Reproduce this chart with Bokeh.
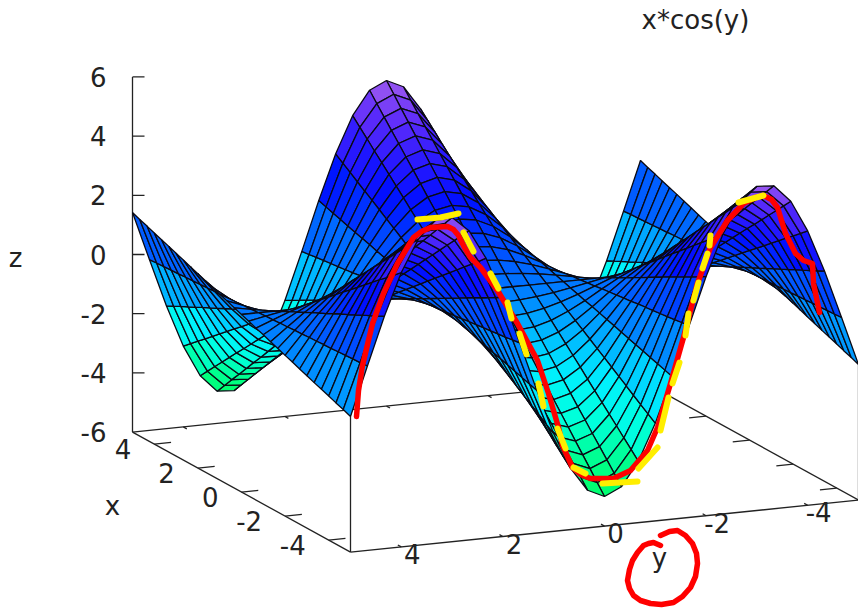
import numpy as np
from bokeh.embed import file_html
from bokeh.models import Range1d
from bokeh.plotting import figure
from bokeh.resources import INLINE
from bokeh.core.properties import value

# Surface heights (title: x*cos(y)), 31 x 31 samples on [-5, 5].
# Quadrant x = 5 ... 0 (rows), y = 5 ... 0 (columns); the rest mirrors it.
x_half = [5.0, 4.667, 4.333, 4.0, 3.667, 3.333, 3.0, 2.667, 2.333, 2.0, 1.667, 1.333, 1.0, 0.667, 0.333, 0.0]
y_half = [5.0, 4.667, 4.333, 4.0, 3.667, 3.333, 3.0, 2.667, 2.333, 2.0, 1.667, 1.333, 1.0, 0.667, 0.333, 0.0]
z_quadrant = [
    [1.42, -0.23, -1.85, -3.27, -4.33, -4.91, -4.95, -4.45, -3.46, -2.08, -0.48, 1.18, 2.70, 3.93, 4.73, 5.00],
    [1.32, -0.21, -1.73, -3.05, -4.04, -4.58, -4.62, -4.15, -3.22, -1.94, -0.45, 1.10, 2.52, 3.67, 4.41, 4.67],
    [1.23, -0.20, -1.60, -2.83, -3.75, -4.25, -4.29, -3.85, -2.99, -1.80, -0.41, 1.02, 2.34, 3.41, 4.09, 4.33],
    [1.13, -0.18, -1.48, -2.62, -3.46, -3.93, -3.96, -3.56, -2.76, -1.66, -0.38, 0.94, 2.16, 3.14, 3.78, 4.00],
    [1.04, -0.17, -1.36, -2.40, -3.17, -3.60, -3.63, -3.26, -2.53, -1.53, -0.35, 0.86, 1.98, 2.88, 3.47, 3.67],
    [0.95, -0.15, -1.23, -2.18, -2.88, -3.27, -3.30, -2.96, -2.30, -1.39, -0.32, 0.78, 1.80, 2.62, 3.15, 3.33],
    [0.85, -0.14, -1.11, -1.96, -2.60, -2.95, -2.97, -2.67, -2.07, -1.25, -0.29, 0.71, 1.62, 2.36, 2.84, 3.00],
    [0.76, -0.12, -0.99, -1.74, -2.31, -2.62, -2.64, -2.37, -1.84, -1.11, -0.26, 0.63, 1.44, 2.10, 2.52, 2.67],
    [0.66, -0.11, -0.86, -1.53, -2.02, -2.29, -2.31, -2.07, -1.61, -0.97, -0.22, 0.55, 1.26, 1.83, 2.20, 2.33],
    [0.57, -0.09, -0.74, -1.31, -1.73, -1.96, -1.98, -1.78, -1.38, -0.83, -0.19, 0.47, 1.08, 1.57, 1.89, 2.00],
    [0.47, -0.08, -0.62, -1.09, -1.44, -1.64, -1.65, -1.48, -1.15, -0.69, -0.16, 0.39, 0.90, 1.31, 1.58, 1.67],
    [0.38, -0.06, -0.49, -0.87, -1.15, -1.31, -1.32, -1.19, -0.92, -0.55, -0.13, 0.31, 0.72, 1.05, 1.26, 1.33],
    [0.28, -0.05, -0.37, -0.65, -0.87, -0.98, -0.99, -0.89, -0.69, -0.42, -0.10, 0.24, 0.54, 0.79, 0.95, 1.00],
    [0.19, -0.03, -0.25, -0.44, -0.58, -0.65, -0.66, -0.59, -0.46, -0.28, -0.06, 0.16, 0.36, 0.52, 0.63, 0.67],
    [0.09, -0.02, -0.12, -0.22, -0.29, -0.33, -0.33, -0.30, -0.23, -0.14, -0.03, 0.08, 0.18, 0.26, 0.31, 0.33],
    [0.00, 0.00, 0.00, 0.00, 0.00, 0.00, 0.00, 0.00, 0.00, 0.00, 0.00, 0.00, 0.00, 0.00, 0.00, 0.00],
]
x_ticks = [4, 2, 0, -2, -4]
y_ticks = [4, 2, 0, -2, -4]
z_ticks = [6, 4, 2, 0, -2, -4, -6]

palette_z = [-5, -4, -3, -2, -1, 0, 1, 2, 3, 4, 5]
palette_r = [0, 0, 0, 0, 0, 0, 0, 0, 40, 95, 165]
palette_g = [255, 255, 255, 240, 180, 120, 70, 15, 25, 45, 95]
palette_b = [100, 150, 225, 255, 255, 255, 255, 255, 255, 250, 240]

# Hand-drawn annotation strokes, in page pixels of the picture.
red_main = [(356, 416), (358, 390), (362, 365), (372, 323), (383, 293), (397, 263), (413, 237), (421, 231), (430, 227), (447, 226),
            (453, 229), (458, 235), (464, 247), (470, 257), (480, 267), (497, 290), (517, 323), (537, 360), (548, 393), (558, 427), (562, 445),
            (572, 467), (580, 474), (590, 478), (613, 478), (630, 470), (647, 450), (657, 427), (670, 383), (683, 337), (697, 283),
            (710, 247), (727, 220), (743, 203), (755, 197), (763, 195), (771, 199), (777, 207), (785, 233), (795, 253), (803, 260), (812, 263), (813, 283),
            (819, 312)]
red_circle = [(660, 535), (669, 531), (677, 530), (685, 535), (692, 543), (696, 553), (697, 563), (695, 576), (690, 587), (682, 596), (673, 602),
              (661, 604), (650, 603), (640, 600), (633, 595), (629, 588), (627, 580), (629, 569), (632, 560), (637, 552), (643, 545), (648, 543), (653, 542), (660, 545)]
yellow_strokes = [
    [(417, 219), (440, 217), (458, 213)], [(463, 232), (473, 251)], [(490, 273), (498, 288)], [(507, 302), (511, 318)],
    [(519, 333), (526, 354)], [(538, 383), (543, 406)], [(557, 428), (565, 448)], [(573, 467), (585, 473)],
    [(602, 483), (637, 481)], [(638, 468), (657, 447)], [(660, 430), (668, 397)], [(672, 383), (679, 362)],
    [(685, 335), (688, 313)], [(693, 300), (698, 282)], [(702, 268), (707, 253)], [(709, 245), (710, 235)],
    [(738, 202), (763, 195)],
]

# Expand the quadrant to the full table, then project it.
q = np.array(z_quadrant)
xs = np.array(x_half + [-v for v in reversed(x_half[:-1])])
ys = np.array(y_half + [-v for v in reversed(y_half[:-1])])
top = np.hstack([q, q[:, -2::-1]])
Z = np.vstack([top, -top[-2::-1]])
X, Y = np.meshgrid(xs, ys, indexing="ij")


def sx(x, y):
    return 495.0 - 21.8 * np.asarray(x) - 50.8 * np.asarray(y)


def sy(x, y, z):
    return 288.0 - 12.0 * np.asarray(x) + 5.2 * np.asarray(y) - 29.6 * np.asarray(z)


def depth(x, y, z):
    return -0.89 * x / 5 + 0.385 * y / 5 + 0.237 * 0.663 * z / 6


SX, SY = sx(X, Y), sy(X, Y, Z)
cells = []
for i in range(len(xs) - 1):
    for j in range(len(ys) - 1):
        idx = [(i, j), (i + 1, j), (i + 1, j + 1), (i, j + 1)]
        zm = np.mean([Z[a] for a in idx])
        d = np.mean([depth(X[a], Y[a], Z[a]) for a in idx])
        r = int(np.interp(zm, palette_z, palette_r))
        g = int(np.interp(zm, palette_z, palette_g))
        b = int(np.interp(zm, palette_z, palette_b))
        cells.append((d, [float(SX[a]) for a in idx], [float(SY[a]) for a in idx], f"#{r:02x}{g:02x}{b:02x}"))
cells.sort(key=lambda c: c[0])

p = figure(width=858, height=609, x_range=Range1d(0, 858), y_range=Range1d(609, 0), x_axis_type=None, y_axis_type=None,
           toolbar_location=None, output_backend="svg", min_border=0, outline_line_color=None)
p.grid.visible = False
AX = "#222222"
lo, hi, zlo, zhi = -5.0, 5.0, -6.0, 6.0


def seg(x0, y0, z0, x1, y1, z1, w=1.3):
    p.line([float(sx(x0, y0)), float(sx(x1, y1))], [float(sy(x0, y0, z0)), float(sy(x1, y1, z1))], line_color=AX, line_width=w)


# base frame
seg(hi, hi, zlo, lo, hi, zlo)
seg(lo, hi, zlo, lo, lo, zlo)
seg(lo, lo, zlo, hi, lo, zlo)
seg(hi, lo, zlo, hi, hi, zlo)
# verticals
seg(hi, hi, zlo, hi, hi, zhi)
seg(lo, hi, zlo, lo, hi, float(Z[-1, 0]))
seg(hi, lo, zlo, hi, lo, float(Z[0, -1]))
seg(lo, lo, zlo, lo, lo, float(Z[-1, -1]))

# ticks
for t in x_ticks:
    seg(t, hi, zlo, t, hi - 0.33, zlo)
    seg(t, lo, zlo, t, lo + 0.33, zlo)
for t in y_ticks:
    seg(lo, t, zlo, lo + 0.16, t, zlo)
    seg(hi, t, zlo, hi - 0.16, t, zlo)
for t in z_ticks[:-1]:
    x0, y0 = float(sx(hi, hi)), float(sy(hi, hi, t))
    p.line([x0, x0 + 12], [y0, y0], line_color=AX, line_width=1.3)

p.patches([c[1] for c in cells], [c[2] for c in cells], fill_color=[c[3] for c in cells], line_color="#0a0a14", line_width=1.3)

font = value("DejaVu Sans")
fs = value("26px")
TXT = "#222222"


def label(xv, yv, s, align="center"):
    p.text([xv], [yv], text=[s], text_font=font, text_font_size=fs, text_color=TXT, text_align=align, text_baseline="middle")


for t in z_ticks:
    label(106, float(sy(hi, hi, t)), str(t), "right")
for t in x_ticks:
    label(float(sx(t, hi)) - 23, float(sy(t, hi, zlo)) + 5, str(t), "right")
for t in y_ticks:
    label(float(sx(lo, t)) + 11, float(sy(lo, t, zlo)) + 7, str(t))
label(15, 257, "z")
label(112, 505, "x")
label(659, 557, "y")
label(695, 19, "x*cos(y)")

p.multi_line([[a for a, _ in red_main], [a for a, _ in red_circle]], [[b for _, b in red_main], [b for _, b in red_circle]],
             line_color="#ff0000", line_width=5.5, line_cap="round", line_join="round")
p.multi_line([[a for a, _ in s] for s in yellow_strokes], [[b for _, b in s] for s in yellow_strokes],
             line_color="#ffee00", line_width=6, line_cap="round", line_join="round")

open("out.html", "w").write(file_html(p, INLINE))
